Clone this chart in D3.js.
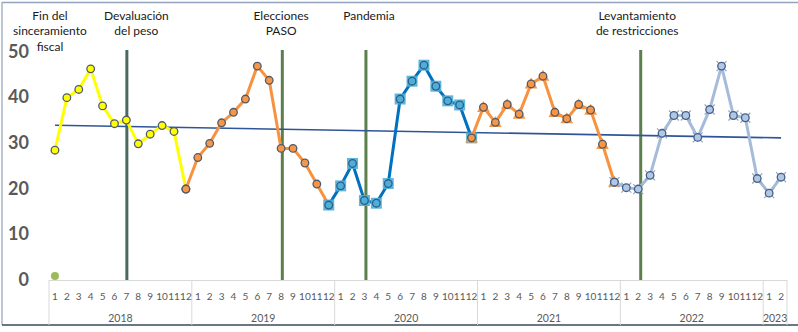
<!DOCTYPE html>
<html>
<head>
<meta charset="utf-8">
<script src="https://cdn.jsdelivr.net/npm/d3@7"></script>
<style>
  html, body { margin: 0; padding: 0; background: #ffffff; }
  svg { display: block; }
</style>
</head>
<body>
<svg id="chart" width="798" height="332"></svg>
<script>
// Calendar: years and how many months of each are shown
const years = ["2018", "2019", "2020", "2021", "2022", "2023"];
const monthsPerYear = [12, 12, 12, 12, 12, 2];

// Monthly series, each starting at a given month index (0 = Jan 2018)
const start2018 = 0;
const values2018 = [28.4, 39.9, 41.7, 46.2, 38.1, 34.2, 35.0, 29.8, 31.9, 33.8, 32.5, 19.9];
const start2019 = 11;
const values2019 = [19.9, 26.8, 29.9, 34.4, 36.7, 39.6, 46.8, 43.7, 28.8, 28.8, 25.6, 21.0, 16.4];
const start2020 = 23;
const values2020 = [16.4, 20.6, 25.5, 17.4, 16.8, 21.1, 39.6, 43.5, 47.0, 42.4, 39.2, 38.3, 31.1];
const start2021 = 35;
const values2021 = [31.1, 37.8, 34.5, 38.4, 36.3, 42.9, 44.6, 36.7, 35.3, 38.4, 37.2, 29.7, 21.4];
const start2022 = 47;
const values2022 = [21.4, 20.2, 19.9, 22.9, 32.1, 36.0, 36.0, 31.2, 37.3, 46.8, 36.0, 35.5, 22.2, 19.0, 22.5];

// Linear trend: value at first and last month
const trendValues = [33.85, 31.1];

// Events (month index) and their captions
const eventIndex = [0, 6, 19, 26, 49];
const eventLabels = [
  ["Fin del", "sinceramiento", "fiscal"],
  ["Devaluación", "del peso"],
  ["Elecciones", "PASO"],
  ["Pandemia"],
  ["Levantamiento", "de restricciones"]
];
const eventPointValue = 0.9; // marker for the first event

// Y axis ticks
const yTicks = [0, 10, 20, 30, 40, 50];

// ---------- layout ----------
const svg = d3.select("#chart");
const monthLabels = [];
const yearOf = [];
monthsPerYear.forEach((n, yi) => {
  for (let m = 1; m <= n; m++) { monthLabels.push(String(m)); yearOf.push(yi); }
});
const idx = d3.range(monthLabels.length);

const x = d3.scaleBand().domain(idx).range([49, 787]).padding(0);
const cx = i => x(i) + x.bandwidth() / 2;
const y = d3.scaleLinear().domain([0, 50]).range([280, 51.5]);

const font = "Lato, 'Open Sans', sans-serif";

// outer frame
svg.append("line").attr("x1", 2).attr("x2", 798).attr("y1", 2.5).attr("y2", 2.5)
  .attr("stroke", "#93a5bd").attr("stroke-width", 1.5);
svg.append("line").attr("x1", 2).attr("x2", 2).attr("y1", 2).attr("y2", 325)
  .attr("stroke", "#a7b5c9").attr("stroke-width", 1.5);
svg.append("line").attr("x1", 2).attr("x2", 798).attr("y1", 325).attr("y2", 325)
  .attr("stroke", "#3b4a5c").attr("stroke-width", 1.5);

// category axis box
const axisG = svg.append("g");
axisG.append("line").attr("x1", 49).attr("x2", 787).attr("y1", 280.5).attr("y2", 280.5)
  .attr("stroke", "#d9d9d9").attr("stroke-width", 1);
let acc = 0;
const bounds = [0];
monthsPerYear.forEach(n => { acc += n; bounds.push(acc); });
bounds.forEach(b => {
  const bx = b < monthLabels.length ? x(b) : x.range()[1];
  axisG.append("line").attr("x1", bx).attr("x2", bx).attr("y1", 280).attr("y2", 325)
    .attr("stroke", "#d9d9d9").attr("stroke-width", 1);
});
axisG.selectAll("text.month").data(idx).join("text")
  .attr("class", "month")
  .attr("x", i => cx(i)).attr("y", 299.5)
  .attr("text-anchor", "middle")
  .attr("font-family", font).attr("font-size", 10).attr("fill", "#595959")
  .text(i => monthLabels[i]);
axisG.selectAll("text.year").data(years).join("text")
  .attr("class", "year")
  .attr("x", (d, i) => {
    const a = x(bounds[i]);
    const b = bounds[i + 1] < monthLabels.length ? x(bounds[i + 1]) : x.range()[1];
    return (a + b) / 2;
  })
  .attr("y", 322)
  .attr("text-anchor", "middle")
  .attr("font-family", font).attr("font-size", 10.5).attr("fill", "#595959")
  .text(d => d);

// y tick labels
svg.selectAll("text.ytick").data(yTicks).join("text")
  .attr("class", "ytick")
  .attr("x", 29).attr("y", d => y(d) + 6)
  .attr("text-anchor", "end")
  .attr("font-family", font).attr("font-weight", 700).attr("font-size", 18)
  .attr("fill", "#595959")
  .text(d => d);

// event lines
const lineShift = [0, 0.5, 1.2, 1.5, 2.5];
const lineColor = ["#5b7b4d", "#4a6a60", "#5b7f4d", "#5b7f4d", "#5b7f4d"];
eventIndex.forEach((ei, k) => {
  if (k === 0) return;
  svg.append("line")
    .attr("x1", cx(ei) + lineShift[k]).attr("x2", cx(ei) + lineShift[k])
    .attr("y1", y(50) - 1.5).attr("y2", y(0))
    .attr("stroke", lineColor[k]).attr("stroke-width", 3);
});

// event captions
const labelShift = [-5, 10, 0, 4.5, -1];
eventLabels.forEach((lines, k) => {
  lines.forEach((t, j) => {
    svg.append("text")
      .attr("x", cx(eventIndex[k]) + labelShift[k])
      .attr("y", 20 + j * 15.3)
      .attr("text-anchor", "middle")
      .attr("font-family", font).attr("font-size", 12).attr("fill", "#1a1a1a")
      .text(t);
  });
});

// first event marker
svg.append("circle").attr("cx", cx(eventIndex[0])).attr("cy", y(eventPointValue)).attr("r", 4)
  .attr("fill", "#9bbb59");

// trend line
svg.append("line")
  .attr("x1", cx(0)).attr("y1", y(trendValues[0]))
  .attr("x2", cx(idx.length - 1)).attr("y2", y(trendValues[1]))
  .attr("stroke", "#2f5597").attr("stroke-width", 1.6);

// series
const series = [
  { start: start2018, values: values2018, line: "#ffff00", fill: "#ffff00", stroke: "#4f5b6b", back: null },
  { start: start2019, values: values2019, line: "#f7923f", fill: "#f79646", stroke: "#4f5b6b", back: null },
  { start: start2020, values: values2020, line: "#0070c0", fill: "#4eaed6", stroke: "#2b5d8c", back: "square" },
  { start: start2021, values: values2021, line: "#f7923f", fill: "#f79646", stroke: "#4f5b6b", back: "triangle" },
  { start: start2022, values: values2022, line: "#a5bbd9", fill: "#b3c6e2", stroke: "#3f5f8c", back: "cross" }
];

const lineGen = d3.line().x(d => cx(d.i)).y(d => y(d.v));

series.forEach(s => {
  const pts = s.values.map((v, k) => ({ i: s.start + k, v }));
  const g = svg.append("g");
  g.append("path").datum(pts).attr("d", lineGen)
    .attr("fill", "none").attr("stroke", s.line).attr("stroke-width", 3)
    .attr("stroke-linejoin", "round");
  pts.forEach(p => {
    const px = cx(p.i), py = y(p.v);
    if (s.back === "square") {
      g.append("rect").attr("x", px - 5.5).attr("y", py - 5.5).attr("width", 11).attr("height", 11)
        .attr("fill", "#4eaed6").attr("opacity", 0.9);
    } else if (s.back === "triangle") {
      g.append("path")
        .attr("d", d3.symbol().type(d3.symbolTriangle).size(70)())
        .attr("transform", `translate(${px},${py + 1})`)
        .attr("fill", "#f79646");
    } else if (s.back === "cross") {
      g.append("path")
        .attr("d", `M${px - 5},${py - 5}L${px + 5},${py + 5}M${px - 5},${py + 5}L${px + 5},${py - 5}`)
        .attr("stroke", "#9aa6b6").attr("stroke-width", 1.2);
    }
    g.append("circle").attr("cx", px).attr("cy", py).attr("r", 3.8)
      .attr("fill", s.fill).attr("stroke", s.stroke).attr("stroke-width", 1.3);
  });
});
</script>
</body>
</html>
